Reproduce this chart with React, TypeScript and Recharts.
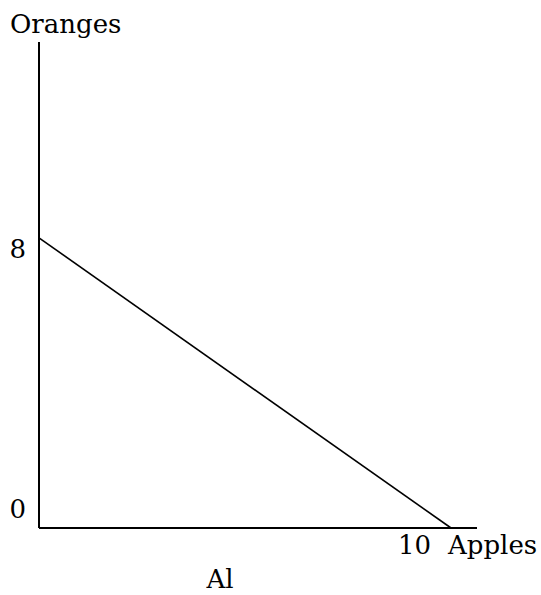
import React from 'react';
import { LineChart, Line, XAxis, YAxis, Label } from 'recharts';

const budget = [
  { apples: 0, oranges: 8 },
  { apples: 10, oranges: 0 },
];
const xTicks = [10];
const yTicks = [0, 8];
const xLabel = 'Apples';
const yLabel = 'Oranges';
const caption = 'Al';

const FONT = 'DejaVu Serif';
const FS = 26;

function YTick({ x, y, payload }: any) {
  const dy = payload.value === 0 ? -10 : 20;
  return (
    <text x={x - 13} y={y + dy} textAnchor="end" fontFamily={FONT} fontSize={FS} fill="#000">
      {payload.value}
    </text>
  );
}

function XTick({ x, y, payload }: any) {
  return (
    <text x={x - 20} y={y + 26} textAnchor="end" fontFamily={FONT} fontSize={FS} fill="#000">
      {payload.value}
    </text>
  );
}

export default function App() {
  return (
    <div style={{ position: 'absolute', left: 0, top: 0, width: 541, height: 595, background: '#fff' }}>
      <LineChart width={541} height={595} data={budget} margin={{ top: 42, right: 64, bottom: 7, left: 0 }}>
        <XAxis
          dataKey="apples"
          type="number"
          domain={[0, 10.63]}
          ticks={xTicks}
          tick={<XTick />}
          tickLine={false}
          tickSize={0}
          tickMargin={0}
          height={60}
          axisLine={{ stroke: '#000', strokeWidth: 2 }}
        >
          <Label
            content={({ viewBox }: any) => (
              <text x={viewBox.x + 409} y={viewBox.y + 26} fontFamily={FONT} fontSize={FS} fill="#000">
                {xLabel}
              </text>
            )}
          />
          <Label
            content={({ viewBox }: any) => (
              <text x={viewBox.x + 181} y={viewBox.y + 60} textAnchor="middle" fontFamily={FONT} fontSize={FS} fill="#000">
                {caption}
              </text>
            )}
          />
        </XAxis>
        <YAxis
          type="number"
          domain={[0, 13.4]}
          ticks={yTicks}
          tick={<YTick />}
          tickLine={false}
          tickSize={0}
          tickMargin={0}
          width={39}
          axisLine={{ stroke: '#000', strokeWidth: 2 }}
        >
          <Label
            content={({ viewBox }: any) => (
              <text x={10} y={viewBox.y - 9} fontFamily={FONT} fontSize={FS} fill="#000">
                {yLabel}
              </text>
            )}
          />
        </YAxis>
        <Line
          dataKey="oranges"
          type="linear"
          stroke="#000"
          strokeWidth={1.6}
          dot={false}
          activeDot={false}
          isAnimationActive={false}
        />
      </LineChart>
    </div>
  );
}
